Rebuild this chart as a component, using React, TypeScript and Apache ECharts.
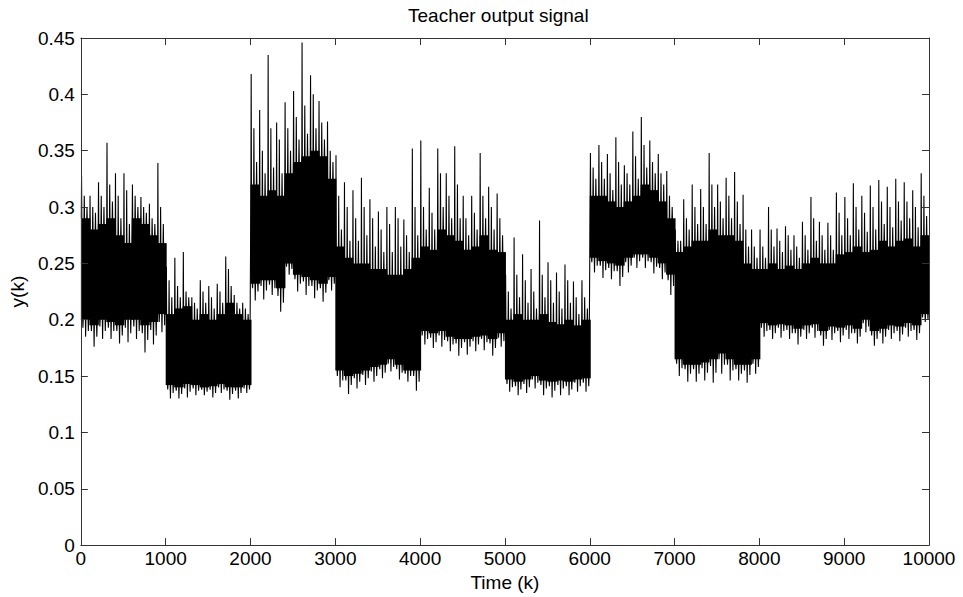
import React, { useEffect, useRef } from "react";
import * as echarts from "echarts";

// Width of each block of samples
const blockSize = 100;
// Tallest spike per 100-sample block
const blockHigh = [
  0.328, 0.31, 0.322, 0.357, 0.33, 0.33, 0.32, 0.309, 0.303, 0.339,
  0.247, 0.255, 0.26, 0.22, 0.235, 0.23, 0.232, 0.256, 0.222, 0.215,
  0.418, 0.386, 0.435, 0.375, 0.393, 0.403, 0.446, 0.417, 0.394, 0.376,
  0.346, 0.322, 0.315, 0.326, 0.307, 0.296, 0.3, 0.3, 0.289, 0.352,
  0.359, 0.317, 0.352, 0.33, 0.354, 0.31, 0.31, 0.348, 0.318, 0.312,
  0.24, 0.273, 0.258, 0.245, 0.288, 0.251, 0.242, 0.249, 0.234, 0.235,
  0.348, 0.355, 0.347, 0.362, 0.337, 0.367, 0.38, 0.359, 0.347, 0.332,
  0.28, 0.307, 0.32, 0.316, 0.348, 0.32, 0.326, 0.331, 0.311, 0.28,
  0.28, 0.3, 0.281, 0.283, 0.275, 0.287, 0.309, 0.287, 0.286, 0.313,
  0.309, 0.321, 0.31, 0.319, 0.324, 0.318, 0.325, 0.322, 0.315, 0.33,
];
// Second-tallest spike per block
const blockHigh2 = [
  0.31, 0.3, 0.31, 0.32, 0.31, 0.315, 0.31, 0.3, 0.29, 0.3,
  0.235, 0.23, 0.225, 0.215, 0.225, 0.22, 0.225, 0.245, 0.215, 0.21,
  0.37, 0.35, 0.37, 0.36, 0.37, 0.38, 0.39, 0.4, 0.375, 0.35,
  0.31, 0.3, 0.29, 0.3, 0.29, 0.28, 0.285, 0.29, 0.275, 0.3,
  0.3, 0.295, 0.33, 0.31, 0.32, 0.29, 0.295, 0.31, 0.3, 0.29,
  0.225, 0.24, 0.235, 0.225, 0.24, 0.235, 0.225, 0.235, 0.22, 0.22,
  0.335, 0.34, 0.33, 0.34, 0.33, 0.345, 0.355, 0.34, 0.33, 0.31,
  0.27, 0.29, 0.3, 0.3, 0.32, 0.305, 0.31, 0.305, 0.28, 0.265,
  0.265, 0.28, 0.27, 0.275, 0.265, 0.275, 0.29, 0.275, 0.275, 0.295,
  0.29, 0.3, 0.295, 0.3, 0.305, 0.3, 0.305, 0.305, 0.3, 0.31,
];
// Short spikes just above the core per block
const blockHigh3 = [
  0.3, 0.295, 0.3, 0.305, 0.29, 0.285, 0.3, 0.295, 0.285, 0.285,
  0.22, 0.22, 0.22, 0.21, 0.215, 0.21, 0.215, 0.23, 0.21, 0.205,
  0.34, 0.33, 0.335, 0.33, 0.35, 0.36, 0.365, 0.37, 0.36, 0.34,
  0.28, 0.27, 0.27, 0.275, 0.265, 0.26, 0.26, 0.265, 0.26, 0.275,
  0.28, 0.28, 0.3, 0.29, 0.29, 0.275, 0.28, 0.29, 0.28, 0.275,
  0.21, 0.22, 0.215, 0.21, 0.22, 0.215, 0.21, 0.215, 0.205, 0.21,
  0.325, 0.325, 0.315, 0.32, 0.32, 0.325, 0.335, 0.33, 0.32, 0.3,
  0.27, 0.28, 0.285, 0.285, 0.3, 0.29, 0.29, 0.285, 0.265, 0.255,
  0.255, 0.265, 0.26, 0.262, 0.255, 0.262, 0.27, 0.262, 0.262, 0.275,
  0.275, 0.28, 0.278, 0.28, 0.285, 0.282, 0.288, 0.29, 0.282, 0.292,
];
// Deepest dip per block
const blockLow = [
  0.185, 0.176, 0.183, 0.183, 0.179, 0.18, 0.183, 0.171, 0.178, 0.189,
  0.13, 0.13, 0.131, 0.133, 0.133, 0.131, 0.135, 0.129, 0.13, 0.135,
  0.217, 0.218, 0.222, 0.207, 0.24, 0.225, 0.222, 0.219, 0.216, 0.226,
  0.14, 0.134, 0.139, 0.142, 0.145, 0.148, 0.154, 0.147, 0.145, 0.137,
  0.178, 0.175, 0.176, 0.172, 0.168, 0.169, 0.172, 0.173, 0.168, 0.176,
  0.136, 0.133, 0.135, 0.139, 0.133, 0.131, 0.133, 0.133, 0.136, 0.136,
  0.242, 0.237, 0.236, 0.23, 0.242, 0.246, 0.246, 0.241, 0.236, 0.222,
  0.15, 0.145, 0.145, 0.146, 0.144, 0.152, 0.146, 0.146, 0.144, 0.152,
  0.185, 0.183, 0.184, 0.183, 0.178, 0.183, 0.184, 0.177, 0.182, 0.18,
  0.183, 0.179, 0.189, 0.177, 0.179, 0.183, 0.181, 0.185, 0.182, 0.198,
];
// Second-deepest dip per block
const blockLow2 = [
  0.19, 0.185, 0.19, 0.19, 0.186, 0.188, 0.19, 0.182, 0.186, 0.195,
  0.135, 0.134, 0.136, 0.137, 0.136, 0.135, 0.138, 0.134, 0.135, 0.138,
  0.225, 0.226, 0.228, 0.215, 0.245, 0.232, 0.23, 0.226, 0.224, 0.232,
  0.146, 0.142, 0.145, 0.148, 0.15, 0.153, 0.158, 0.153, 0.15, 0.145,
  0.183, 0.18, 0.182, 0.178, 0.175, 0.176, 0.178, 0.18, 0.175, 0.181,
  0.14, 0.138, 0.14, 0.144, 0.139, 0.137, 0.139, 0.138, 0.141, 0.141,
  0.248, 0.244, 0.243, 0.238, 0.248, 0.252, 0.252, 0.247, 0.242, 0.23,
  0.157, 0.152, 0.152, 0.153, 0.153, 0.16, 0.155, 0.152, 0.151, 0.158,
  0.19, 0.188, 0.19, 0.188, 0.185, 0.188, 0.19, 0.183, 0.188, 0.186,
  0.188, 0.185, 0.194, 0.183, 0.185, 0.188, 0.187, 0.19, 0.188, 0.2,
];
// Short dips just below the core per block
const blockLow3 = [
  0.193, 0.19, 0.194, 0.193, 0.19, 0.193, 0.194, 0.188, 0.191, 0.198,
  0.138, 0.137, 0.139, 0.139, 0.138, 0.138, 0.14, 0.137, 0.137, 0.139,
  0.228, 0.23, 0.231, 0.221, 0.247, 0.236, 0.234, 0.23, 0.228, 0.235,
  0.15, 0.146, 0.148, 0.151, 0.154, 0.156, 0.161, 0.156, 0.152, 0.15,
  0.186, 0.184, 0.186, 0.181, 0.179, 0.18, 0.181, 0.183, 0.179, 0.184,
  0.143, 0.141, 0.143, 0.147, 0.142, 0.141, 0.142, 0.141, 0.144, 0.144,
  0.251, 0.248, 0.246, 0.243, 0.251, 0.255, 0.255, 0.251, 0.246, 0.235,
  0.161, 0.156, 0.156, 0.157, 0.159, 0.165, 0.16, 0.156, 0.155, 0.161,
  0.193, 0.191, 0.193, 0.191, 0.188, 0.191, 0.193, 0.186, 0.191, 0.19,
  0.191, 0.188, 0.197, 0.186, 0.188, 0.191, 0.19, 0.193, 0.191, 0.202,
];
// Top edge of the dense core per block
const coreHigh = [
  0.29, 0.28, 0.285, 0.29, 0.275, 0.268, 0.29, 0.285, 0.275, 0.268,
  0.205, 0.21, 0.212, 0.2, 0.205, 0.2, 0.205, 0.215, 0.205, 0.2,
  0.32, 0.31, 0.315, 0.31, 0.33, 0.34, 0.345, 0.35, 0.345, 0.325,
  0.265, 0.255, 0.25, 0.25, 0.245, 0.245, 0.24, 0.24, 0.245, 0.255,
  0.265, 0.262, 0.28, 0.275, 0.27, 0.262, 0.265, 0.275, 0.262, 0.26,
  0.2, 0.205, 0.2, 0.2, 0.205, 0.198, 0.196, 0.2, 0.195, 0.2,
  0.31, 0.31, 0.305, 0.3, 0.305, 0.31, 0.32, 0.315, 0.305, 0.29,
  0.26, 0.265, 0.27, 0.27, 0.28, 0.275, 0.275, 0.27, 0.25, 0.245,
  0.245, 0.25, 0.245, 0.248, 0.245, 0.25, 0.255, 0.25, 0.25, 0.258,
  0.26, 0.265, 0.26, 0.262, 0.27, 0.265, 0.27, 0.272, 0.265, 0.275,
];
// Bottom edge of the dense core per block
const coreLow = [
  0.2, 0.195, 0.2, 0.198, 0.195, 0.2, 0.2, 0.195, 0.198, 0.205,
  0.142, 0.14, 0.143, 0.142, 0.14, 0.141, 0.143, 0.14, 0.14, 0.142,
  0.232, 0.235, 0.235, 0.228, 0.25, 0.24, 0.238, 0.235, 0.232, 0.238,
  0.155, 0.15, 0.152, 0.155, 0.158, 0.16, 0.165, 0.16, 0.155, 0.155,
  0.19, 0.188, 0.19, 0.185, 0.183, 0.183, 0.185, 0.186, 0.183, 0.188,
  0.147, 0.145, 0.147, 0.15, 0.146, 0.145, 0.146, 0.145, 0.147, 0.148,
  0.255, 0.252, 0.25, 0.248, 0.255, 0.258, 0.258, 0.255, 0.25, 0.24,
  0.165, 0.16, 0.16, 0.162, 0.165, 0.17, 0.165, 0.16, 0.16, 0.165,
  0.197, 0.195, 0.196, 0.195, 0.192, 0.195, 0.196, 0.19, 0.194, 0.193,
  0.195, 0.192, 0.2, 0.19, 0.192, 0.195, 0.194, 0.197, 0.195, 0.205,
];
const xTicks = { min: 0, max: 10000, interval: 1000 };
const yTicks = { min: 0, max: 0.45, interval: 0.05 };

const FONT = "'Liberation Sans', Arial, Helvetica, sans-serif";

export default function App() {
  const ref = useRef<HTMLDivElement>(null);
  useEffect(() => {
    if (!ref.current) return;
    const chart = echarts.init(ref.current, null, { renderer: "svg" });

    // Each block: thin needles from the core edge out to its spikes
    const signal: [number, number][] = [];
    const needle = (at: number, base: number, peak: number) => {
      signal.push([at - 3, base], [at, peak], [at + 3, base]);
    };
    blockHigh.forEach((h, i) => {
      const s = i * blockSize;
      needle(s + 8, coreHigh[i], h);
      needle(s + 24, coreLow[i], blockLow3[i]);
      needle(s + 40, coreHigh[i], blockHigh2[i]);
      needle(s + 56, coreLow[i], blockLow[i]);
      needle(s + 72, coreHigh[i], blockHigh3[i]);
      needle(s + 88, coreLow[i], blockLow2[i]);
    });
    const coreData = coreLow.map((lo, i) => [i * blockSize, (i + 1) * blockSize, lo, coreHigh[i]]);

    const axisColor = "#333";
    const tickLabel = { fontSize: 19, color: "#000", fontFamily: FONT };
    const lineCommon = {
      axisLine: { show: true, onZero: false, lineStyle: { color: axisColor } },
      axisTick: { show: true, inside: true, length: 7, lineStyle: { color: axisColor } },
      splitLine: { show: false },
      z: 10,
    };

    chart.setOption({
      animation: false,
      backgroundColor: "#fff",
      title: {
        text: "Teacher output signal",
        left: 408,
        top: 6,
        padding: 0,
        textStyle: { fontSize: 19, fontWeight: "normal", color: "#000", fontFamily: FONT },
      },
      grid: { left: 79, top: 38, right: 34, bottom: 48 },
      xAxis: [
        {
          type: "value",
          position: "bottom",
          ...xTicks,
          ...lineCommon,
          axisLabel: { ...tickLabel, margin: 4, formatter: (v: number) => String(v) },
          name: "Time (k)",
          nameLocation: "middle",
          nameGap: 24,
          nameTextStyle: { fontSize: 19, color: "#000", fontFamily: FONT },
        },
        {
          type: "value",
          position: "top",
          ...xTicks,
          ...lineCommon,
          axisLabel: { show: false },
        },
      ],
      yAxis: [
        {
          type: "value",
          position: "left",
          ...yTicks,
          ...lineCommon,
          axisLabel: { ...tickLabel, margin: 6 },
          name: "y(k)",
          nameLocation: "middle",
          nameGap: 49,
          nameTextStyle: { fontSize: 19, color: "#000", fontFamily: FONT },
        },
        {
          type: "value",
          position: "right",
          ...yTicks,
          ...lineCommon,
          axisLabel: { show: false },
        },
      ],
      series: [
        {
          type: "custom",
          data: coreData,
          silent: true,
          encode: { x: [0, 1], y: [2, 3] },
          renderItem: (_params: any, api: any) => {
            const p1 = api.coord([api.value(0), api.value(3)]);
            const p2 = api.coord([api.value(1), api.value(2)]);
            return {
              type: "rect",
              shape: { x: p1[0], y: p1[1], width: p2[0] - p1[0] + 1, height: p2[1] - p1[1] },
              style: { fill: "#000" },
            };
          },
        },
        {
          type: "line",
          data: signal,
          symbol: "none",
          lineStyle: { color: "#000", width: 1.1 },
          silent: true,
        },
      ],
    });
    return () => chart.dispose();
  }, []);
  return (
    <div
      ref={ref}
      style={{ position: "absolute", left: 0, top: 0, width: 963, height: 597 }}
    />
  );
}
